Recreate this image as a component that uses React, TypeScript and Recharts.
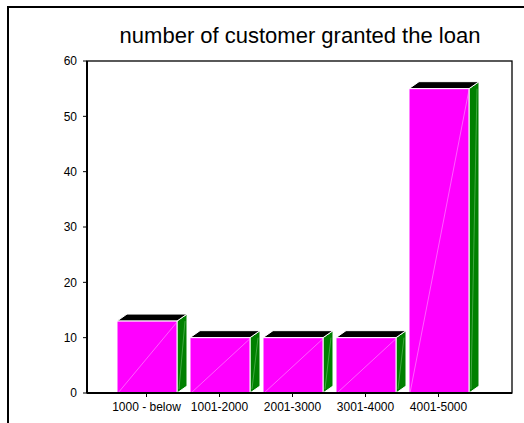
import React from 'react';
import { BarChart, Bar, XAxis, YAxis } from 'recharts';

const categories = ['1000 - below', '1001-2000', '2001-3000', '3001-4000', '4001-5000'];
const customers = [13, 10, 10, 10, 55];
const yTicks = [0, 10, 20, 30, 40, 50, 60];
const chartTitle = 'number of customer granted the loan';

const data = categories.map((c, i) => ({ range: c, count: customers[i] }));

const DX = 10;
const DY = 7;
const FONT = '"Liberation Sans", Arial, sans-serif';

function Box3D(props: any) {
  const { x, y, width: w, height: h } = props;
  if (h == null || w == null) return null;
  return (
    <g>
      <polygon
        points={`${x + w},${y} ${x + w + DX},${y - DY} ${x + w + DX},${y + h - DY} ${x + w},${y + h}`}
        fill="#008000"
        stroke="#ffffff"
        strokeWidth={1}
      />
      <line x1={x + w + 2} y1={y + h - 4} x2={x + w + DX - 2} y2={y} stroke="#7fcf7f" strokeWidth={0.5} />
      <polygon
        points={`${x},${y} ${x + DX},${y - DY} ${x + w + DX},${y - DY} ${x + w},${y}`}
        fill="#000000"
        stroke="#ffffff"
        strokeWidth={1}
      />
      <rect x={x} y={y} width={w} height={h} fill="#ff00ff" stroke="#ffffff" strokeWidth={1} />
      <line x1={x + 1} y1={y + h} x2={x + w} y2={y + 1} stroke="#ff9cff" strokeWidth={0.6} />
    </g>
  );
}

export default function App() {
  return (
    <div style={{ position: 'absolute', left: 0, top: 0, width: 524, height: 423, background: '#fff' }}>
      <svg width={524} height={423} style={{ position: 'absolute', left: 0, top: 0 }}>
        <rect x={8} y={7} width={700} height={700} fill="none" stroke="#000" strokeWidth={2} />
        <rect x={87} y={61} width={425} height={332} fill="none" stroke="#000" strokeWidth={1.3} />
        <text x={300} y={43} textAnchor="middle" fontSize={22} fontFamily={FONT} fill="#000">
          {chartTitle}
        </text>
      </svg>
      <div style={{ position: 'absolute', left: 0, top: 0 }}>
        <BarChart
          width={524}
          height={423}
          data={data}
          margin={{ top: 61, right: 12, left: 0, bottom: 10 }}
          style={{ fontFamily: FONT }}
        >
          <YAxis
            width={87}
            domain={[0, 60]}
            ticks={yTicks}
            interval={0}
            tickSize={4}
            tickMargin={6}
            axisLine={{ stroke: '#000', strokeWidth: 2 }}
            tickLine={{ stroke: '#000' }}
            tick={{ fill: '#000', fontSize: 12, fontFamily: FONT }}
          />
          <XAxis
            dataKey="range"
            height={20}
            interval={0}
            padding={{ left: 23, right: 37 }}
            tickSize={4}
            tickMargin={5}
            axisLine={{ stroke: '#000', strokeWidth: 2 }}
            tickLine={{ stroke: '#000' }}
            tick={{ fill: '#000', fontSize: 12, fontFamily: FONT }}
          />
          <Bar dataKey="count" barSize={60} shape={<Box3D />} isAnimationActive={false} />
        </BarChart>
      </div>
    </div>
  );
}
